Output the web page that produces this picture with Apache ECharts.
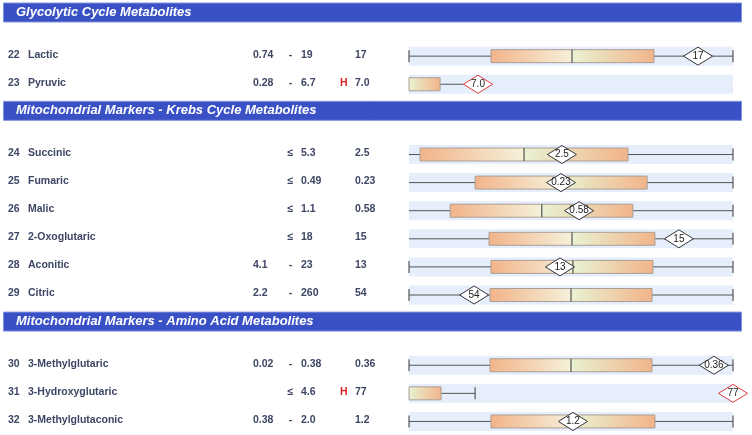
<!DOCTYPE html>
<html>
<head>
<meta charset="utf-8">
<script src="https://cdn.jsdelivr.net/npm/echarts@6/dist/echarts.min.js"></script>
<style>html,body{margin:0;background:#fff}#chart{width:752px;height:435px}</style>
</head>
<body>
<div id="chart"></div>
<script>
const sectionTitles=["Glycolytic Cycle Metabolites","Mitochondrial Markers - Krebs Cycle Metabolites","Mitochondrial Markers - Amino Acid Metabolites"];
const sectionSizes=[2,6,3];

const ids=[22,23,24,25,26,27,28,29,30,31,32];
const names=["Lactic","Pyruvic","Succinic","Fumaric","Malic","2-Oxoglutaric","Aconitic","Citric","3-Methylglutaric","3-Hydroxyglutaric","3-Methylglutaconic"];
const refLow=["0.74","0.28","","","","","4.1","2.2","0.02","","0.38"];
const refHigh=["19","6.7","5.3","0.49","1.1","18","23","260","0.38","4.6","2.0"];
const flags=["","H","","","","","","","","H",""];
const results=["17","7.0","2.5","0.23","0.58","15","13","54","0.36","77","1.2"];

// positions on the 0-100 population scale of each row
const whiskerLow=[0,null,0,0,0,0,0,0,0,null,0];
const boxLow=[25.3,0,3.4,20.4,12.7,24.7,25.3,25.0,25.0,0,25.3];
const median=[50.3,0,35.5,46.9,41.0,50.3,50.6,50.0,50.0,0,50.6];
const boxHigh=[75.6,9.6,67.6,73.5,69.1,75.9,75.3,75.0,75.0,9.9,75.9];
const whiskerHigh=[100,21,100,100,100,100,100,100,100,20.4,100];
const resultPos=[89.2,21.3,47.2,46.9,52.5,83.3,46.6,20.1,94.1,100,50.6];

const FONT='"Liberation Sans",Arial,sans-serif';
const INK="#3d4664";

// header gets 3 half-row slots, each test row 2
const headerSlots=[],rowSlots=[];
let cur=0;
sectionSizes.forEach(n=>{
  headerSlots.push(cur);cur+=3;
  for(let i=0;i<n;i++){rowSlots.push(cur);cur+=2;}
});

const chart=echarts.init(document.getElementById("chart"));

function header(params,api){
  const y=api.coord([0,api.value(0)])[1];
  return {type:"group",children:[
    {type:"rect",shape:{x:3.5,y:y-9.5,width:738,height:19},style:{fill:"#3a51c5",stroke:"#7f91dc",lineWidth:1}},
    {type:"text",x:16,y:y,style:{text:sectionTitles[params.dataIndex],fill:"#fff",font:`italic bold 13px ${FONT}`,verticalAlign:"middle"}}
  ]};
}

function label(params,api){
  const i=params.dataIndex;
  const y=api.coord([0,api.value(0)])[1];
  const t=(x,text,align,fill)=>({type:"text",x,y,style:{text,fill:fill||INK,font:`bold 10.5px ${FONT}`,align:align||"left",verticalAlign:"middle"}});
  return {type:"group",children:[
    t(8,String(ids[i])),
    t(28,names[i]),
    t(253,refLow[i]),
    t(290.5,refLow[i]?"-":"≤","center"),
    t(301,refHigh[i]),
    t(340,flags[i],"left","#e02020"),
    t(355,results[i])
  ]};
}

function box(params,api){
  const i=params.dataIndex;
  const y=api.coord([0,api.value(0)])[1]+1.5;
  const X=v=>api.coord([v,0])[0];
  const bandL=X(0),bandR=X(100);
  const bl=X(boxLow[i]),md=X(median[i]),bh=X(boxHigh[i]);
  const wl=whiskerLow[i]==null?bl:X(whiskerLow[i]);
  const wh=X(whiskerHigh[i]);
  const vx=X(resultPos[i]);
  const line="#555";
  const kids=[
    {type:"rect",shape:{x:bandL,y:y-9.5,width:bandR-bandL,height:19},style:{fill:"#e6eefb"}},
    {type:"line",shape:{x1:wl,y1:y,x2:wh,y2:y},style:{stroke:line,lineWidth:1}},
    {type:"line",shape:{x1:wh,y1:y-6,x2:wh,y2:y+6},style:{stroke:line,lineWidth:1.2}}
  ];
  if(refLow[i]&&whiskerLow[i]!=null)kids.push({type:"line",shape:{x1:wl,y1:y-6,x2:wl,y2:y+6},style:{stroke:line,lineWidth:1.2}});
  if(md>bl)kids.push({type:"rect",shape:{x:bl,y:y-6.5,width:md-bl,height:13},style:{
    fill:new echarts.graphic.LinearGradient(0,0,1,0,[{offset:0,color:"#f2b48a"},{offset:1,color:"#f5f1da"}])}});
  kids.push({type:"rect",shape:{x:md,y:y-6.5,width:bh-md,height:13},style:{
    fill:new echarts.graphic.LinearGradient(0,0,1,0,[{offset:0,color:"#e8f2d2"},{offset:1,color:"#f2b48a"}])}});
  kids.push({type:"rect",shape:{x:bl,y:y-6.5,width:bh-bl,height:13},style:{fill:"none",stroke:"#aa9e96",lineWidth:1}});
  if(md>bl)kids.push({type:"line",shape:{x1:md,y1:y-6.5,x2:md,y2:y+6.5},style:{stroke:"#333",lineWidth:1}});
  kids.push({type:"polygon",shape:{points:[[vx-14.5,y],[vx,y-9],[vx+14.5,y],[vx,y+9]]},
    style:{fill:"#fff",stroke:flags[i]?"#e23b3b":"#333",lineWidth:1}});
  kids.push({type:"text",x:vx,y:y,style:{text:results[i],fill:"#222",font:`10px ${FONT}`,align:"center",verticalAlign:"middle"}});
  return {type:"group",children:kids};
}

chart.setOption({
  animation:false,
  grid:{left:409,right:19,top:12.5,bottom:1},
  xAxis:{type:"value",min:0,max:100,show:false},
  yAxis:{type:"value",min:0,max:30,inverse:true,show:false},
  series:[
    {type:"custom",renderItem:header,data:headerSlots.map(s=>[s]),encode:{y:0},silent:true},
    {type:"custom",renderItem:label,data:rowSlots.map(s=>[s]),encode:{y:0},silent:true},
    {type:"custom",renderItem:box,data:rowSlots.map(s=>[s]),encode:{y:0},silent:true}
  ]
});
</script>
</body>
</html>
